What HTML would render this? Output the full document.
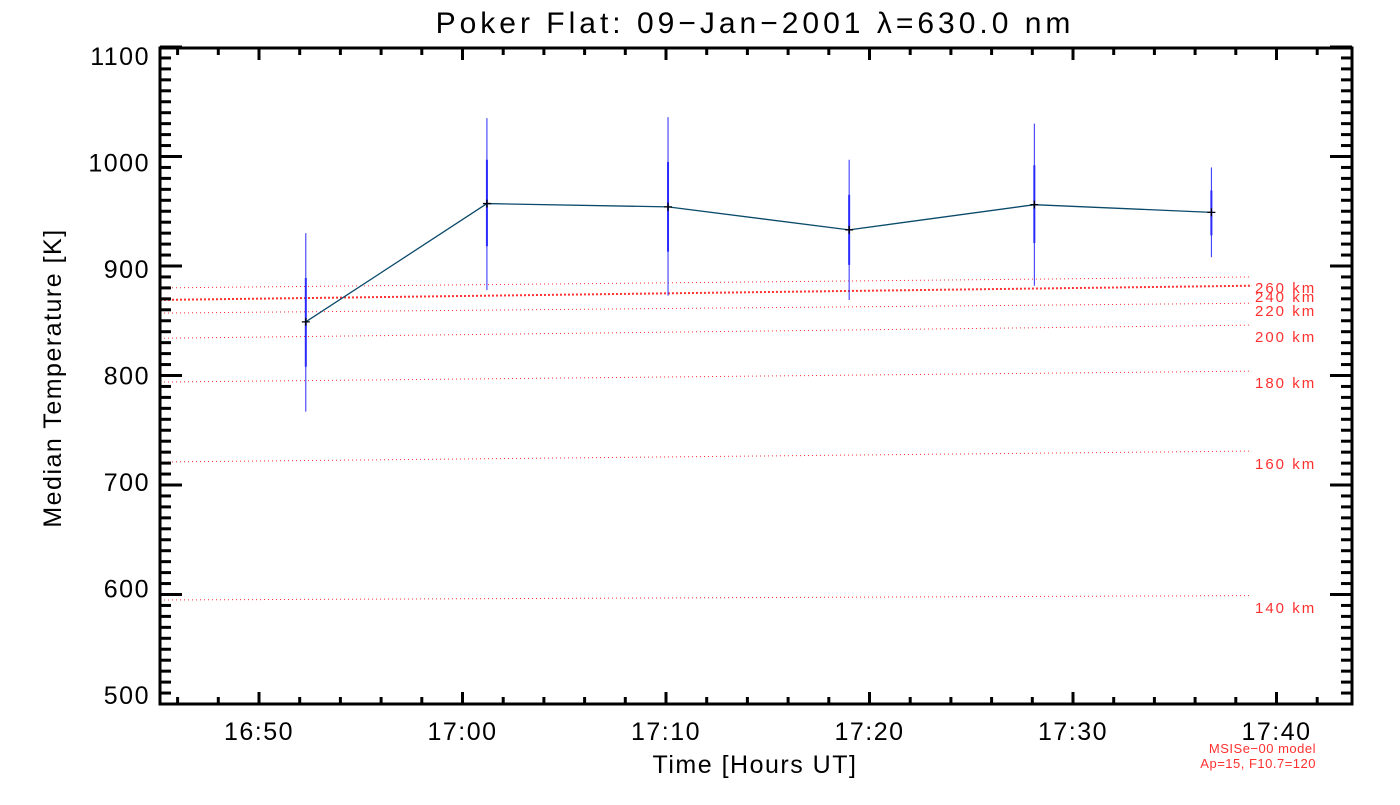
<!DOCTYPE html>
<html><head><meta charset="utf-8"><style>
body{margin:0;background:#fff;}
svg text{font-family:"Liberation Sans","DejaVu Sans",sans-serif;}
</style></head><body>
<svg id="c" width="1400" height="800" xmlns="http://www.w3.org/2000/svg">
<text x="755" y="33" font-size="30" letter-spacing="4" text-anchor="middle">Poker Flat: 09−Jan−2001 λ=630.0 nm</text>
<text x="755" y="773" font-size="25" letter-spacing="1.5" text-anchor="middle">Time [Hours UT]</text>
<text transform="translate(61,378) rotate(-90)" font-size="25" letter-spacing="1.5" text-anchor="middle">Median Temperature [K]</text>
<text x="1316" y="753" font-size="13" letter-spacing="0.5" fill="#ff3030" text-anchor="end">MSISe−00 model</text>
<text x="1316" y="768" font-size="13" letter-spacing="0.5" fill="#ff3030" text-anchor="end">Ap=15, F10.7=120</text>
<g id="g"></g>
</svg>
<script>
const xTicks=["16:50","17:00","17:10","17:20","17:30","17:40"];
const xTickMin=[50,60,70,80,90,100];
const yTicks=[500,600,700,800,900,1000,1100];
const times=[52.3,61.2,70.1,79.0,88.1,96.8];
const temps=[849,957,954,933,956,949];
const errOuterHi=[930,1035,1036,997,1030,990];
const errOuterLo=[767,878,873,869,882,908];
const errInnerHi=[889,997,995,965,992,969];
const errInnerLo=[808,918,913,901,921,928];
const altLabels=["260 km","240 km","220 km","200 km","180 km","160 km","140 km"];
const altStart=[880,869,857,834,794,721,595];
const altEnd=[890,882,866,846,804,731,599];
const altLabelY=[288,297,311,337,383,464,608];
const X=m=>259+(m-50)*20.35;
const Y=v=>47+(1100-v)*1.095;
const g=document.getElementById('g');
const NS='http://www.w3.org/2000/svg';
function mk(t,a){const e=document.createElementNS(NS,t);for(const k in a)e.setAttribute(k,a[k]);g.appendChild(e);return e;}
const L=160,R=1352,T=48,B=704;
altLabels.forEach((lab,i)=>{
 const e=mk('line',{x1:L,y1:Y(altStart[i]),x2:X(98.8),y2:Y(altEnd[i]),stroke:'#ff3030','stroke-width':i==1?2:1,'stroke-dasharray':i==1?'2 2':'1 3'});
 
 
 const t=mk('text',{x:1255,y:altLabelY[i]+5,'font-size':15,'letter-spacing':'2',fill:'#ff3030'});t.textContent=lab;
 
 
});
times.forEach((m,i)=>{
 const x=X(m);
 const a=mk('line',{x1:x,y1:Y(errOuterHi[i]),x2:x,y2:Y(errOuterLo[i]),stroke:'#2a2aff','stroke-width':1});
 
 
 const b=mk('line',{x1:x,y1:Y(errInnerHi[i]),x2:x,y2:Y(errInnerLo[i]),stroke:'#2a2aff','stroke-width':2});
 
 
});
const pl=mk('polyline',{points:times.map((m,i)=>X(m)+','+Y(temps[i])).join(' '),fill:'none',stroke:'#0a4a6a','stroke-width':1.3});


times.forEach((m,i)=>{
 const x=X(m),y=Y(temps[i]);
 const p=mk('path',{d:`M${x-4},${y}H${x+4}M${x},${y-4}V${y+4}`,stroke:'#000','stroke-width':1.3});
 
 
});
const f=mk('rect',{x:L,y:T,width:R-L,height:B-T,fill:'none',stroke:'#000','stroke-width':3});


for(let v=500;v<=1100;v+=10){
 const y=Y(v),len=(v%100==0)?22:11;
 mk('line',{x1:L,y1:y,x2:L+len,y2:y,stroke:'#000','stroke-width':3});
 mk('line',{x1:R,y1:y,x2:R-len,y2:y,stroke:'#000','stroke-width':3});
}
yTicks.forEach(v=>{
 const off=9+(v-800)/600*18;
 const t=mk('text',{x:150,y:Y(v)+off,'font-size':25,'letter-spacing':'1.5','text-anchor':'end'});t.textContent=v;
 
 
});
for(let m=46;m<=102;m+=2){
 const x=X(m);if(x<=L||x>=R)continue;
 const len=(m%10==0)?12:7;
 mk('line',{x1:x,y1:B,x2:x,y2:B-len,stroke:'#000','stroke-width':3});
 mk('line',{x1:x,y1:T,x2:x,y2:T+len,stroke:'#000','stroke-width':3});
}
xTicks.forEach((lab,i)=>{
 const t=mk('text',{x:X(xTickMin[i]),y:740,'font-size':25,'letter-spacing':'1.5','text-anchor':'middle'});t.textContent=lab;
 
 
});
</script>
</body></html>
